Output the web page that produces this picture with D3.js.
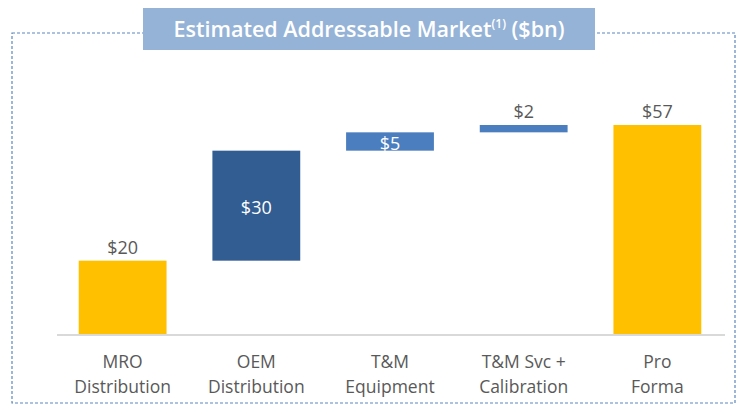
<!DOCTYPE html>
<html>
<head>
<meta charset="utf-8">
<script src="https://cdn.jsdelivr.net/npm/d3@7"></script>
<style>
  html, body { margin: 0; padding: 0; background: #fff; }
  #chart { width: 739px; height: 407px; }
  text { font-family: "Open Sans", "Noto Sans", sans-serif; }
</style>
</head>
<body>
<div id="chart"></div>
<script>
"use strict";

const categories = [
  ["MRO", "Distribution"],
  ["OEM", "Distribution"],
  ["T&M", "Equipment"],
  ["T&M Svc +", "Calibration"],
  ["Pro", "Forma"],
];
const values = [20, 30, 5, 2, 57];
const kinds = ["total", "step", "step", "step", "total"];
const valueLabels = ["$20", "$30", "$5", "$2", "$57"];

// bar styling
const barColors = ["#ffc000", "#325d93", "#4b7ebe", "#4b7ebe", "#ffc000"];
const labelInside = [false, true, true, false, false];

const w = 739;
const h = 407;
const baseY = 334;

// work out floating bar extents
let running = 0;
const bars = values.map((v, i) => {
  let lo, hi;
  if (kinds[i] === "total") {
    lo = 0;
    hi = v;
    running = v;
  } else {
    lo = running;
    hi = running + v;
    running = hi;
  }
  return { i: i, lo: lo, hi: hi, cat: categories[i] };
});

const svg = d3
  .select("#chart")
  .append("svg")
  .attr("width", w)
  .attr("height", h);

// dashed frame
svg
  .append("path")
  .attr("d", `M12,33 H735 V403 H12 Z`)
  .attr("fill", "none")
  .attr("stroke", "#5b87bf")
  .attr("stroke-width", 1.2)
  .attr("stroke-dasharray", "3,2");

// title box
svg
  .append("rect")
  .attr("x", 143)
  .attr("y", 8)
  .attr("width", 452)
  .attr("height", 42)
  .attr("fill", "#95b3d7");

const title = svg
  .append("text")
  .attr("x", 369)
  .attr("y", 37)
  .attr("text-anchor", "middle")
  .attr("fill", "#fff")
  .attr("font-size", 21.5)
  .attr("font-weight", 600);
title.append("tspan").text("Estimated Addressable Market");
title
  .append("tspan")
  .attr("font-size", 12)
  .attr("dy", -9)
  .text("(1)");
title.append("tspan").attr("dy", 9).text(" ($bn)");

const xScale = d3
  .scaleBand()
  .domain(d3.range(values.length))
  .range([56, 724])
  .paddingInner(0.343)
  .paddingOuter(0.17);

const yScale = d3.scaleLinear().domain([0, 57]).range([baseY, 125]);

// baseline
svg
  .append("line")
  .attr("x1", 57)
  .attr("x2", 725)
  .attr("y1", baseY + 1)
  .attr("y2", baseY + 1)
  .attr("stroke", "#d9d9d9")
  .attr("stroke-width", 2);

svg
  .selectAll("rect.bar")
  .data(bars)
  .enter()
  .append("rect")
  .attr("class", "bar")
  .attr("x", (d) => xScale(d.i))
  .attr("width", xScale.bandwidth())
  .attr("y", (d) => yScale(d.hi))
  .attr("height", (d) => yScale(d.lo) - yScale(d.hi))
  .attr("fill", (d) => barColors[d.i]);

// value labels
svg
  .selectAll("text.val")
  .data(bars)
  .enter()
  .append("text")
  .attr("class", "val")
  .attr("x", (d) => xScale(d.i) + xScale.bandwidth() / 2)
  .attr("y", (d) =>
    labelInside[d.i]
      ? (yScale(d.lo) + yScale(d.hi)) / 2 + 8
      : yScale(d.hi) - 7
  )
  .attr("text-anchor", "middle")
  .attr("font-size", 18)
  .attr("fill", (d) => (labelInside[d.i] ? "#fff" : "#595959"))
  .text((d) => valueLabels[d.i]);

// category labels
const cats = svg
  .selectAll("text.cat")
  .data(bars)
  .enter()
  .append("text")
  .attr("class", "cat")
  .attr("text-anchor", "middle")
  .attr("font-size", 17.5)
  .attr("fill", "#595959");

cats
  .selectAll("tspan")
  .data((d) => d.cat.map((t) => ({ t: t, x: xScale(d.i) + xScale.bandwidth() / 2 })))
  .enter()
  .append("tspan")
  .attr("x", (d) => d.x)
  .attr("y", (d, j) => 368 + j * 25)
  .text((d) => d.t);
</script>
</body>
</html>
